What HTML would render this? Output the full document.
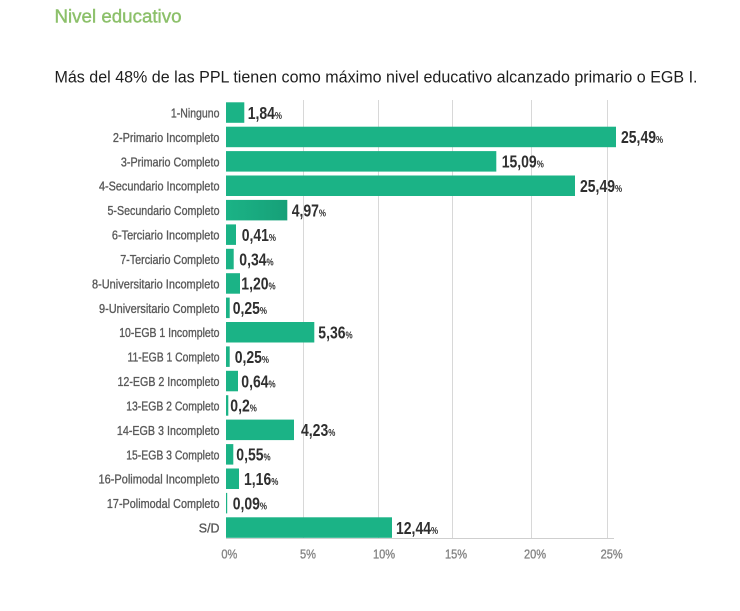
<!DOCTYPE html>
<html>
<head>
<meta charset="utf-8">
<style>
  html, body { margin:0; padding:0; background:#ffffff; }
  svg { display:block; }
  text { font-family: "Liberation Sans", sans-serif; }
</style>
</head>
<body>
<svg width="740" height="611" viewBox="0 0 740 611" xmlns="http://www.w3.org/2000/svg">
  <defs>
    <linearGradient id="g5" x1="0" y1="0" x2="1" y2="0">
      <stop offset="0" stop-color="#1bb386"/>
      <stop offset="1" stop-color="#16a078"/>
    </linearGradient>
  </defs>
  <rect width="740" height="611" fill="#ffffff"/>

  <!-- Title -->
  <text x="54.5" y="22.7" font-size="18.5" fill="#8cc06a" stroke="#8cc06a" stroke-width="0.4" textLength="127" lengthAdjust="spacingAndGlyphs">Nivel educativo</text>
  <!-- Subtitle -->
  <text x="54.5" y="82.5" font-size="16.5" fill="#1e1e1e" textLength="643" lengthAdjust="spacingAndGlyphs">Más del 48% de las PPL tienen como máximo nivel educativo alcanzado primario o EGB I.</text>

  <!-- Gridlines -->
  <g stroke="#d8d8d8" stroke-width="1">
    <line x1="303.5" y1="100" x2="303.5" y2="538"/>
    <line x1="378.5" y1="100" x2="378.5" y2="538"/>
    <line x1="452.5" y1="100" x2="452.5" y2="538"/>
    <line x1="531.5" y1="100" x2="531.5" y2="538"/>
    <line x1="607.5" y1="100" x2="607.5" y2="538"/>
  </g>
  <line x1="226" y1="538.5" x2="614" y2="538.5" stroke="#cfcfcf" stroke-width="1"/>

  <!-- Bars -->
  <g fill="#1bb386">
    <rect x="226" y="102.3" width="18.3" height="20.5"/>
    <rect x="226" y="126.7" width="390" height="20.5"/>
    <rect x="226" y="151.1" width="270.3" height="20.5"/>
    <rect x="226" y="175.5" width="349" height="20.5"/>
    <rect x="226" y="199.9" width="61.3" height="20.5" fill="url(#g5)"/>
    <rect x="226" y="224.4" width="10" height="20.5"/>
    <rect x="226" y="248.8" width="7.7" height="20.5"/>
    <rect x="226" y="273.2" width="14" height="20.5"/>
    <rect x="226" y="297.6" width="3.7" height="20.5"/>
    <rect x="226" y="322.0" width="88.3" height="20.5"/>
    <rect x="226" y="346.4" width="3.7" height="20.5"/>
    <rect x="226" y="370.8" width="12" height="20.5"/>
    <rect x="226" y="395.2" width="2.3" height="20.5"/>
    <rect x="226" y="419.6" width="68" height="20.5"/>
    <rect x="226" y="444.1" width="7.3" height="20.5"/>
    <rect x="226" y="468.5" width="13" height="20.5"/>
    <rect x="226" y="492.9" width="1.2" height="20.5"/>
    <rect x="226" y="517.3" width="166" height="20.5"/>
  </g>

  <!-- Category labels -->
  <g font-size="13" fill="#5a5a5a" stroke="#5a5a5a" stroke-width="0.35">
    <text x="170.9" y="117.5" textLength="48.6" lengthAdjust="spacingAndGlyphs">1-Ninguno</text>
    <text x="112.9" y="141.9" textLength="106.6" lengthAdjust="spacingAndGlyphs">2-Primario Incompleto</text>
    <text x="120.9" y="166.3" textLength="98.6" lengthAdjust="spacingAndGlyphs">3-Primario Completo</text>
    <text x="99.0" y="190.7" textLength="120.5" lengthAdjust="spacingAndGlyphs">4-Secundario Incompleto</text>
    <text x="107.5" y="215.1" textLength="112" lengthAdjust="spacingAndGlyphs">5-Secundario Completo</text>
    <text x="111.9" y="239.6" textLength="107.6" lengthAdjust="spacingAndGlyphs">6-Terciario Incompleto</text>
    <text x="120.2" y="264.0" textLength="99.3" lengthAdjust="spacingAndGlyphs">7-Terciario Completo</text>
    <text x="92.0" y="288.4" textLength="127.5" lengthAdjust="spacingAndGlyphs">8-Universitario Incompleto</text>
    <text x="99.0" y="312.8" textLength="120.5" lengthAdjust="spacingAndGlyphs">9-Universitario Completo</text>
    <text x="119.2" y="337.2" textLength="100.3" lengthAdjust="spacingAndGlyphs">10-EGB 1 Incompleto</text>
    <text x="127.5" y="361.6" textLength="92" lengthAdjust="spacingAndGlyphs">11-EGB 1 Completo</text>
    <text x="117.5" y="386.0" textLength="102" lengthAdjust="spacingAndGlyphs">12-EGB 2 Incompleto</text>
    <text x="126.2" y="410.4" textLength="93.3" lengthAdjust="spacingAndGlyphs">13-EGB 2 Completo</text>
    <text x="116.9" y="434.8" textLength="102.6" lengthAdjust="spacingAndGlyphs">14-EGB 3 Incompleto</text>
    <text x="126.2" y="459.3" textLength="93.3" lengthAdjust="spacingAndGlyphs">15-EGB 3 Completo</text>
    <text x="98.5" y="483.7" textLength="121" lengthAdjust="spacingAndGlyphs">16-Polimodal Incompleto</text>
    <text x="106.9" y="508.1" textLength="112.6" lengthAdjust="spacingAndGlyphs">17-Polimodal Completo</text>
    <text x="198.8" y="532.5" textLength="20.7" lengthAdjust="spacingAndGlyphs">S/D</text>
  </g>

  <!-- Value labels -->
  <g font-size="17.5" font-weight="bold" fill="#2f2f2f">
    <text transform="translate(247.7,118.8) scale(0.8,1)">1,84<tspan font-size="10">%</tspan></text>
    <text transform="translate(621,143.2) scale(0.8,1)">25,49<tspan font-size="10">%</tspan></text>
    <text transform="translate(501.7,167.6) scale(0.8,1)">15,09<tspan font-size="10">%</tspan></text>
    <text transform="translate(580,192.0) scale(0.8,1)">25,49<tspan font-size="10">%</tspan></text>
    <text transform="translate(291.7,216.4) scale(0.8,1)">4,97<tspan font-size="10">%</tspan></text>
    <text transform="translate(241.7,240.9) scale(0.8,1)">0,41<tspan font-size="10">%</tspan></text>
    <text transform="translate(239.3,265.3) scale(0.8,1)">0,34<tspan font-size="10">%</tspan></text>
    <text transform="translate(241.3,289.7) scale(0.8,1)">1,20<tspan font-size="10">%</tspan></text>
    <text transform="translate(232.7,314.1) scale(0.8,1)">0,25<tspan font-size="10">%</tspan></text>
    <text transform="translate(318.3,338.5) scale(0.8,1)">5,36<tspan font-size="10">%</tspan></text>
    <text transform="translate(234.7,362.9) scale(0.8,1)">0,25<tspan font-size="10">%</tspan></text>
    <text transform="translate(241.3,387.3) scale(0.8,1)">0,64<tspan font-size="10">%</tspan></text>
    <text transform="translate(230.3,411.7) scale(0.8,1)">0,2<tspan font-size="10">%</tspan></text>
    <text transform="translate(301,436.1) scale(0.8,1)">4,23<tspan font-size="10">%</tspan></text>
    <text transform="translate(236.3,460.6) scale(0.8,1)">0,55<tspan font-size="10">%</tspan></text>
    <text transform="translate(244,485.0) scale(0.8,1)">1,16<tspan font-size="10">%</tspan></text>
    <text transform="translate(232.7,509.4) scale(0.8,1)">0,09<tspan font-size="10">%</tspan></text>
    <text transform="translate(396,533.8) scale(0.8,1)">12,44<tspan font-size="10">%</tspan></text>
  </g>

  <!-- Axis tick labels -->
  <g font-size="13" fill="#858585" stroke="#858585" stroke-width="0.35" text-anchor="middle">
    <text transform="translate(229.3,558.3) scale(0.85,1)">0%</text>
    <text transform="translate(308,558.3) scale(0.85,1)">5%</text>
    <text transform="translate(384,558.3) scale(0.85,1)">10%</text>
    <text transform="translate(456,558.3) scale(0.85,1)">15%</text>
    <text transform="translate(535,558.3) scale(0.85,1)">20%</text>
    <text transform="translate(611.7,558.3) scale(0.85,1)">25%</text>
  </g>
</svg>
</body>
</html>
